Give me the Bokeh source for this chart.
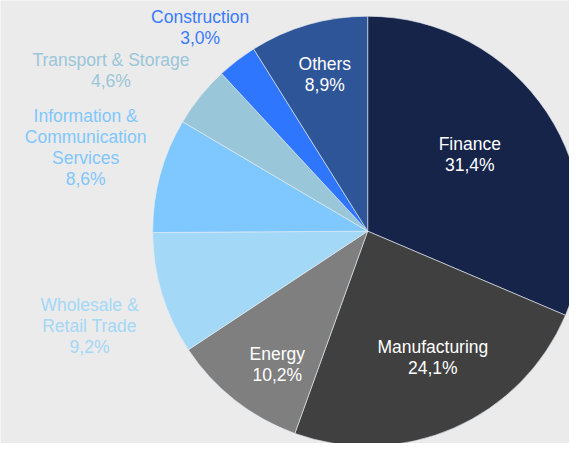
import math
from bokeh.plotting import figure
from bokeh.models import ColumnDataSource, Range1d
from bokeh.core.properties import value
from bokeh.embed import file_html
from bokeh.resources import INLINE

sectors = ["Finance", "Manufacturing", "Energy", "Wholesale &\nRetail Trade",
           "Information &\nCommunication\nServices", "Transport & Storage",
           "Construction", "Others"]
shares = [31.4, 24.1, 10.2, 9.2, 8.6, 4.6, 3.0, 8.9]
pct_labels = ["31,4%", "24,1%", "10,2%", "9,2%", "8,6%", "4,6%", "3,0%", "8,9%"]

colors = ["#16244a", "#404040", "#7f7f7f", "#a3d8f7", "#7fc7ff", "#9ac6d9", "#2f76ff", "#2e5597"]
text_colors = ["#ffffff", "#ffffff", "#ffffff", "#a3d8f7", "#7fc7ff", "#9ac6d9", "#3a7bff", "#ffffff"]
# label placement: radius factor and angular shift (degrees) relative to slice middle
label_rf = [0.597, 0.666, 0.753, 1.368, 1.370, 1.411, 1.232, 0.760]
label_shift = [-3.8, -3.5, -4.2, -2.0, 1.6, -6.7, -1.8, 0.8]

# layout in a 585x459 design space drawn on a canvas that fits the page
DW, DH = 585, 459
W, H = 569, 443
cx, cy, R = 377.5, DH - 239, 221

total = sum(shares)
starts, ends, lx, ly, txt = [], [], [], [], []
cum = 0.0
for s, name, pl, rf, sh in zip(shares, sectors, pct_labels, label_rf, label_shift):
    a0 = cum / total * 2 * math.pi
    a1 = (cum + s) / total * 2 * math.pi
    starts.append(math.pi / 2 - a0)
    ends.append(math.pi / 2 - a1)
    mid = (a0 + a1) / 2 + math.radians(sh)
    lx.append(cx + rf * R * math.sin(mid))
    ly.append(cy + rf * R * math.cos(mid))
    txt.append(name + "\n" + pl)
    cum += s

src = ColumnDataSource(dict(start=starts, end=ends, color=colors,
                            x=lx, y=ly, text=txt, tcolor=text_colors))

p = figure(width=W, height=H, output_backend="svg", toolbar_location=None,
           x_range=Range1d(0, DW), y_range=Range1d(0, DH), min_border=0)
p.axis.visible = False
p.grid.visible = False
p.outline_line_color = None
p.background_fill_color = "#ebebeb"
p.border_fill_color = "#ebebeb"

p.wedge(x=cx, y=cy, radius=R, start_angle="start", end_angle="end",
        direction="clock", fill_color="color", line_color="#e8eef5",
        line_width=0.6, source=src)

p.text(x="x", y="y", text="text", text_color="tcolor", source=src,
       text_align="center", text_baseline="middle",
       text_font=value("Liberation Sans"), text_font_size="17.5px",
       text_line_height=1.05)

open("out.html", "w").write(file_html(p, INLINE))
